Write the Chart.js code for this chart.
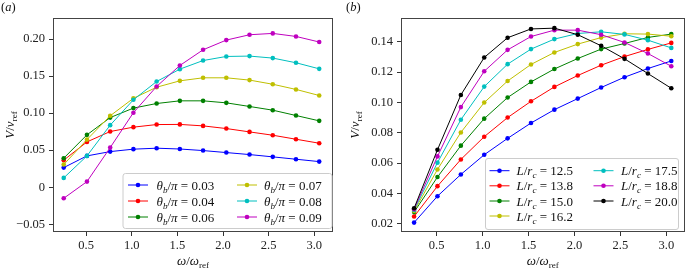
<!DOCTYPE html>
<html><head><meta charset="utf-8">
<script src="https://cdn.jsdelivr.net/npm/chart.js@4/dist/chart.umd.min.js"></script>
<style>
html,body{margin:0;padding:0;background:#fff;width:687px;height:274px;overflow:hidden}
#ca{position:absolute;left:0;top:0}
#cb{position:absolute;left:345px;top:0}
</style></head><body>
<canvas id="ca" width="343" height="274"></canvas>
<canvas id="cb" width="342" height="274"></canvas>
<script>
// ---------- data ----------
const omega = [0.2545, 0.509, 0.7635, 1.018, 1.2725, 1.527, 1.7815, 2.036, 2.2905, 2.545, 2.7995, 3.054];

// panel (a): theta_b / pi
const thetaLabels = ['0.03', '0.04', '0.06', '0.07', '0.08', '0.09'];
const vTheta003 = [0.0265, 0.0423, 0.0481, 0.0514, 0.0527, 0.0516, 0.0495, 0.0468, 0.0441, 0.0410, 0.0378, 0.0346];
const vTheta004 = [0.0365, 0.0612, 0.0752, 0.0811, 0.0846, 0.0848, 0.0828, 0.0792, 0.0747, 0.0702, 0.0648, 0.0594];
const vTheta006 = [0.0392, 0.0707, 0.0940, 0.1068, 0.1130, 0.1166, 0.1166, 0.1139, 0.1090, 0.1040, 0.0968, 0.0896];
const vTheta007 = [0.0306, 0.0643, 0.0964, 0.1200, 0.1350, 0.1436, 0.1477, 0.1477, 0.1446, 0.1390, 0.1320, 0.1238];
const vTheta008 = [0.0126, 0.0423, 0.0838, 0.1180, 0.1427, 0.1594, 0.1710, 0.1765, 0.1770, 0.1743, 0.1680, 0.1598];
const vTheta009 = [-0.0149, 0.0076, 0.0535, 0.1006, 0.1360, 0.1643, 0.1855, 0.1986, 0.2058, 0.2076, 0.2035, 0.1960];

// panel (b): L / r_c
const lengthLabels = ['12.5', '13.8', '15.0', '16.2', '17.5', '18.8', '20.0'];
const vL125 = [0.0208, 0.0382, 0.0525, 0.0655, 0.0763, 0.0864, 0.0952, 0.1025, 0.1098, 0.1166, 0.1223, 0.1273];
const vL138 = [0.0248, 0.0448, 0.0624, 0.0774, 0.0900, 0.1007, 0.1102, 0.1177, 0.1245, 0.1302, 0.1349, 0.1392];
const vL150 = [0.0277, 0.0508, 0.0715, 0.0893, 0.1032, 0.1135, 0.1220, 0.1289, 0.1351, 0.1388, 0.1428, 0.1450];
const vL162 = [0.0284, 0.0558, 0.0802, 0.0999, 0.1141, 0.1250, 0.1329, 0.1384, 0.1427, 0.1452, 0.1450, 0.1436];
const vL175 = [0.0291, 0.0603, 0.0886, 0.1104, 0.1252, 0.1351, 0.1417, 0.1454, 0.1465, 0.1448, 0.1410, 0.1359];
const vL188 = [0.0296, 0.0644, 0.0969, 0.1205, 0.1346, 0.1434, 0.1476, 0.1476, 0.1446, 0.1395, 0.1322, 0.1238];
const vL200 = [0.0302, 0.0688, 0.1049, 0.1296, 0.1426, 0.1484, 0.1489, 0.1446, 0.1373, 0.1287, 0.1190, 0.1093];

// ticks
const xTicks = [0.5, 1.0, 1.5, 2.0, 2.5, 3.0];
const xTickLabels = ['0.5', '1.0', '1.5', '2.0', '2.5', '3.0'];
const yTicksA = [-0.05, 0, 0.05, 0.10, 0.15, 0.20];
const yTickLabelsA = ['\u22120.05', '0', '0.05', '0.10', '0.15', '0.20'];
const yTicksB = [0.02, 0.04, 0.06, 0.08, 0.10, 0.12, 0.14];
const yTickLabelsB = ['0.02', '0.04', '0.06', '0.08', '0.10', '0.12', '0.14'];

// ---------- style ----------
const seriesColors = ['#0000ff', '#ff0000', '#008000', '#bfbf00', '#00bfbf', '#bf00bf', '#000000'];
const SERIF = '"Liberation Serif", "DejaVu Serif", serif';

function fontOf(p, base) {
  const sz = p.sub ? base * 0.7 : base;
  return (p.it ? 'italic ' : '') + sz + 'px ' + SERIF;
}
function richWidth(ctx, parts, base) {
  let w = 0;
  for (const p of parts) { ctx.font = fontOf(p, base); w += ctx.measureText(p.t).width; }
  return w;
}
function drawRich(ctx, parts, x, y, base, align) {
  const w = richWidth(ctx, parts, base);
  let cx = align === 'center' ? x - w / 2 : (align === 'right' ? x - w : x);
  ctx.textBaseline = 'alphabetic';
  ctx.textAlign = 'left';
  for (const p of parts) {
    ctx.font = fontOf(p, base);
    ctx.fillText(p.t, cx, y + (p.sub ? base * 0.24 : 0));
    cx += ctx.measureText(p.t).width;
  }
}

function makeChart(id, cfg) {
  const datasets = cfg.series.map((vals, i) => ({
    label: cfg.labelText(cfg.names[i]),
    data: omega.map((x, k) => ({ x: x, y: vals[k] })),
    borderColor: seriesColors[i],
    backgroundColor: seriesColors[i],
    borderWidth: 1,
    pointRadius: 2.3,
    pointBorderWidth: 0,
    pointHoverRadius: 2.3,
    tension: 0,
    fill: false,
    order: cfg.series.length - i
  }));

  const deco = {
    id: 'deco' + id,
    afterDatasetsDraw(chart) {
      const { ctx, chartArea: a } = chart;
      ctx.save();
      ctx.strokeStyle = '#444';
      ctx.lineWidth = 1;
      ctx.strokeRect(Math.round(a.left) + 0.5, Math.round(a.top) + 0.5,
        Math.round(a.right - a.left) - 1, Math.round(a.bottom - a.top) - 1);
      ctx.restore();
    },
    afterDraw(chart) {
      const { ctx, chartArea: a } = chart;
      const L = cfg.legend;
      ctx.save();
      // legend box
      ctx.beginPath();
      ctx.roundRect(L.box[0] + 0.5, L.box[1] + 0.5, L.box[2], L.box[3], 2.5);
      ctx.fillStyle = 'rgba(255,255,255,0.85)';
      ctx.fill();
      ctx.strokeStyle = '#cccccc';
      ctx.lineWidth = 1;
      ctx.stroke();
      // legend entries
      cfg.names.forEach((n, i) => {
        const col = i < L.perCol ? 0 : 1;
        const row = i < L.perCol ? i : i - L.perCol;
        const ry = L.rows[row];
        const hx = L.handleX[col];
        ctx.strokeStyle = seriesColors[i];
        ctx.lineWidth = 1;
        ctx.beginPath(); ctx.moveTo(hx, ry); ctx.lineTo(hx + 20, ry); ctx.stroke();
        ctx.fillStyle = seriesColors[i];
        ctx.beginPath(); ctx.arc(hx + 10, ry, 2.3, 0, Math.PI * 2); ctx.fill();
        ctx.fillStyle = '#111';
        drawRich(ctx, cfg.legendParts(n), L.textX[col], ry + 4.5, 13, 'left');
      });
      // panel label
      ctx.fillStyle = '#111';
      drawRich(ctx, [{ t: '(' }, { t: cfg.panel, it: true }, { t: ')' }], 1, 11, 12.5, 'left');
      // x title
      drawRich(ctx, [{ t: '\u03c9', it: true }, { t: '/' }, { t: '\u03c9', it: true }, { t: 'ref', sub: true }],
        (a.left + a.right) / 2, 265, 13, 'center');
      // y title
      ctx.translate(14, (a.top + a.bottom) / 2);
      ctx.rotate(-Math.PI / 2);
      drawRich(ctx, [{ t: 'V', it: true }, { t: '/' }, { t: 'v', it: true }, { t: 'ref', sub: true }],
        0, 0, 13, 'center');
      ctx.restore();
    }
  };

  const tickFont = { family: SERIF, size: 12.5 };
  return new Chart(document.getElementById(id), {
    type: 'line',
    data: { datasets },
    options: {
      responsive: false,
      animation: false,
      devicePixelRatio: 1,
      layout: { padding: { left: 0, top: 18, right: cfg.padRight, bottom: 0 } },
      plugins: { legend: { display: false }, tooltip: { enabled: false } },
      scales: {
        x: {
          type: 'linear', min: cfg.xMin, max: cfg.xMax,
          afterBuildTicks: s => { s.ticks = xTicks.map(v => ({ value: v })); },
          afterFit: s => { s.height = 42; },
          ticks: { font: tickFont, color: '#222', padding: 2, maxRotation: 0,
                   callback: (v, i) => xTickLabels[i] },
          grid: { display: true, drawOnChartArea: false, drawTicks: true, tickLength: 4, tickColor: '#333' },
          border: { display: false }
        },
        y: {
          type: 'linear', min: cfg.yMin, max: cfg.yMax,
          afterBuildTicks: s => { s.ticks = cfg.yTicks.map(v => ({ value: v })); },
          afterFit: s => { s.width = cfg.yAxisWidth; },
          ticks: { font: tickFont, color: '#222', padding: 4,
                   callback: (v, i) => cfg.yTickLabels[i] },
          grid: { display: true, drawOnChartArea: false, drawTicks: true, tickLength: 4, tickColor: '#333' },
          border: { display: false }
        }
      }
    },
    plugins: [deco]
  });
}

makeChart('ca', {
  panel: 'a',
  names: thetaLabels,
  series: [vTheta003, vTheta004, vTheta006, vTheta007, vTheta008, vTheta009],
  labelText: n => '\u03b8b/\u03c0 = ' + n,
  legendParts: n => [{ t: '\u03b8', it: true }, { t: 'b', it: true, sub: true }, { t: '/' }, { t: '\u03c0', it: true }, { t: ' = ' + n }],
  xMin: 0.137, xMax: 3.205, yMin: -0.0604, yMax: 0.2284,
  yTicks: yTicksA, yTickLabels: yTickLabelsA,
  yAxisWidth: 53, padRight: 10,
  legend: { box: [122.5, 173, 209, 55], perCol: 3, rows: [185, 201, 217], handleX: [128, 237], textX: [156.5, 264] }
});

makeChart('cb', {
  panel: 'b',
  names: lengthLabels,
  series: [vL125, vL138, vL150, vL162, vL175, vL188, vL200],
  labelText: n => 'L/rc = ' + n,
  legendParts: n => [{ t: 'L', it: true }, { t: '/' }, { t: 'r', it: true }, { t: 'c', it: true, sub: true }, { t: ' = ' + n }],
  xMin: 0.112, xMax: 3.2, yMin: 0.0146, yMax: 0.1556,
  yTicks: yTicksB, yTickLabels: yTickLabelsB,
  yAxisWidth: 56, padRight: 1,
  legend: { box: [140, 158, 193, 71], perCol: 4, rows: [170.7, 185.8, 201, 216], handleX: [144.5, 248.5], textX: [171.5, 276] }
});
</script>
</body></html>
